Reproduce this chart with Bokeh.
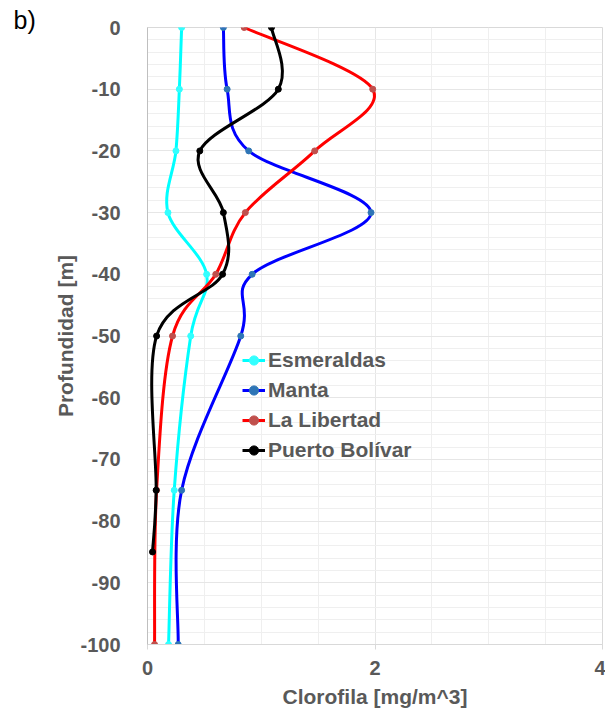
from bokeh.plotting import figure
from bokeh.models import Range1d, FixedTicker, Legend, LegendItem, ColumnDataSource
from bokeh.embed import file_html
from bokeh.resources import INLINE

# ---- data ----
depth = [0, -10, -20, -30, -40, -50, -75, -100]
depth_pb = [0, -10, -20, -30, -40, -50, -75, -85]
esmeraldas = [0.30, 0.28, 0.25, 0.18, 0.52, 0.38, 0.235, 0.185]
manta = [0.667, 0.70, 0.89, 1.965, 0.92, 0.82, 0.30, 0.27]
la_libertad = [0.85, 1.98, 1.47, 0.86, 0.60, 0.22, 0.08, 0.062]
puerto_bolivar = [1.09, 1.15, 0.46, 0.667, 0.66, 0.08, 0.076, 0.044]

series_names = ["Esmeraldas", "Manta", "La Libertad", "Puerto Bolívar"]
x_ticks = [0, 2, 4]
y_ticks = [0, -10, -20, -30, -40, -50, -60, -70, -80, -90, -100]
y_tick_labels = ["0", "-10", "-20", "-30", "-40", "-50", "-60", "-70", "-80", "-90", "-100"]

series = [
    (series_names[0], esmeraldas, depth, "#00ffff", "#33ffff"),
    (series_names[1], manta, depth, "#0000ff", "#2e75b6"),
    (series_names[2], la_libertad, depth, "#ff0000", "#c0504d"),
    (series_names[3], puerto_bolivar, depth_pb, "#000000", "#000000"),
]


def smooth_segments(xs, ys):
    """Catmull-Rom style cubic Bezier segments through the given points."""
    n = len(xs)
    out = {k: [] for k in ("x0", "y0", "x1", "y1", "cx0", "cy0", "cx1", "cy1")}
    for i in range(n - 1):
        xp, yp = (xs[i - 1], ys[i - 1]) if i > 0 else (xs[i], ys[i])
        xn, yn = (xs[i + 2], ys[i + 2]) if i + 2 < n else (xs[i + 1], ys[i + 1])
        out["x0"].append(xs[i]); out["y0"].append(ys[i])
        out["x1"].append(xs[i + 1]); out["y1"].append(ys[i + 1])
        out["cx0"].append(xs[i] + (xs[i + 1] - xp) / 6.0)
        out["cy0"].append(ys[i] + (ys[i + 1] - yp) / 6.0)
        out["cx1"].append(xs[i + 1] - (xn - xs[i]) / 6.0)
        out["cy1"].append(ys[i + 1] - (yn - ys[i]) / 6.0)
    return out


p = figure(width=605, height=710, output_backend="svg", toolbar_location=None,
           x_range=Range1d(0, 4), y_range=Range1d(-100, 0),
           min_border_left=147, min_border_right=3, min_border_top=27, min_border_bottom=64)

p.background_fill_color = "white"
p.border_fill_color = "white"
p.outline_line_color = "#d9d9d9"

FONT = "Liberation Sans"
GRAY = "#595959"

# panel label "b)"
p.title.text = "b)"
p.title.align = "left"
p.title.offset = -134
p.title.standoff = -12
p.title.text_font = FONT
p.title.text_font_size = "25px"
p.title.text_font_style = "normal"
p.title.text_color = "black"

p.xaxis.ticker = FixedTicker(ticks=x_ticks, minor_ticks=[0.5, 1, 1.5, 2.5, 3, 3.5])
p.yaxis.ticker = FixedTicker(ticks=y_ticks, minor_ticks=list(range(-98, 0, 2)))
p.yaxis.major_label_overrides = {t: lab for t, lab in zip(y_ticks, y_tick_labels)}

p.xgrid.grid_line_color = "#e6e6e6"
p.ygrid.grid_line_color = "#e6e6e6"
p.xgrid.minor_grid_line_color = "#efefef"
p.ygrid.minor_grid_line_color = "#efefef"

for ax in (p.xaxis[0], p.yaxis[0]):
    ax.major_label_text_font = FONT
    ax.major_label_text_font_style = "bold"
    ax.major_label_text_color = GRAY
    ax.axis_label_text_font = FONT
    ax.axis_label_text_font_style = "bold"
    ax.axis_label_text_color = GRAY
    ax.minor_tick_line_color = None
    ax.major_tick_in = 0

p.xaxis.major_label_text_font_size = "20px"
p.yaxis.major_label_text_font_size = "20px"
p.xaxis.axis_label_text_font_size = "21px"
p.yaxis.axis_label_text_font_size = "21px"

p.xaxis.axis_label = "Clorofila [mg/m^3]"
p.yaxis.axis_label = "Profundidad [m]"

p.xaxis.axis_line_color = "#d9d9d9"
p.xaxis.major_tick_line_color = "#d9d9d9"
p.xaxis.major_tick_out = 5
p.xaxis.major_label_standoff = 11
p.xaxis.axis_label_standoff = 7

p.yaxis.axis_line_color = "#bfbfbf"
p.yaxis.major_tick_line_color = None
p.yaxis.major_tick_out = 0
p.yaxis.major_label_standoff = 23
p.yaxis.axis_label_standoff = 0

items = []
for name, xs, ys, lcol, mcol in series:
    seg = ColumnDataSource(smooth_segments(xs, ys))
    r_line = p.bezier(x0="x0", y0="y0", x1="x1", y1="y1",
                      cx0="cx0", cy0="cy0", cx1="cx1", cy1="cy1",
                      source=seg, line_color=lcol, line_width=3)
    r_pts = p.scatter(xs, ys, size=6, fill_color=mcol, line_color=mcol)
    items.append(LegendItem(label=name, renderers=[r_line, r_pts]))

legend = Legend(items=items, location=(95, 179), padding=0, margin=0, spacing=0,
                glyph_width=23, glyph_height=30, label_height=30, label_standoff=3,
                label_text_font=FONT, label_text_font_style="bold",
                label_text_font_size="21px", label_text_color=GRAY,
                background_fill_alpha=0, border_line_color=None)
p.add_layout(legend, "center")

open("out.html", "w").write(file_html(p, INLINE))
